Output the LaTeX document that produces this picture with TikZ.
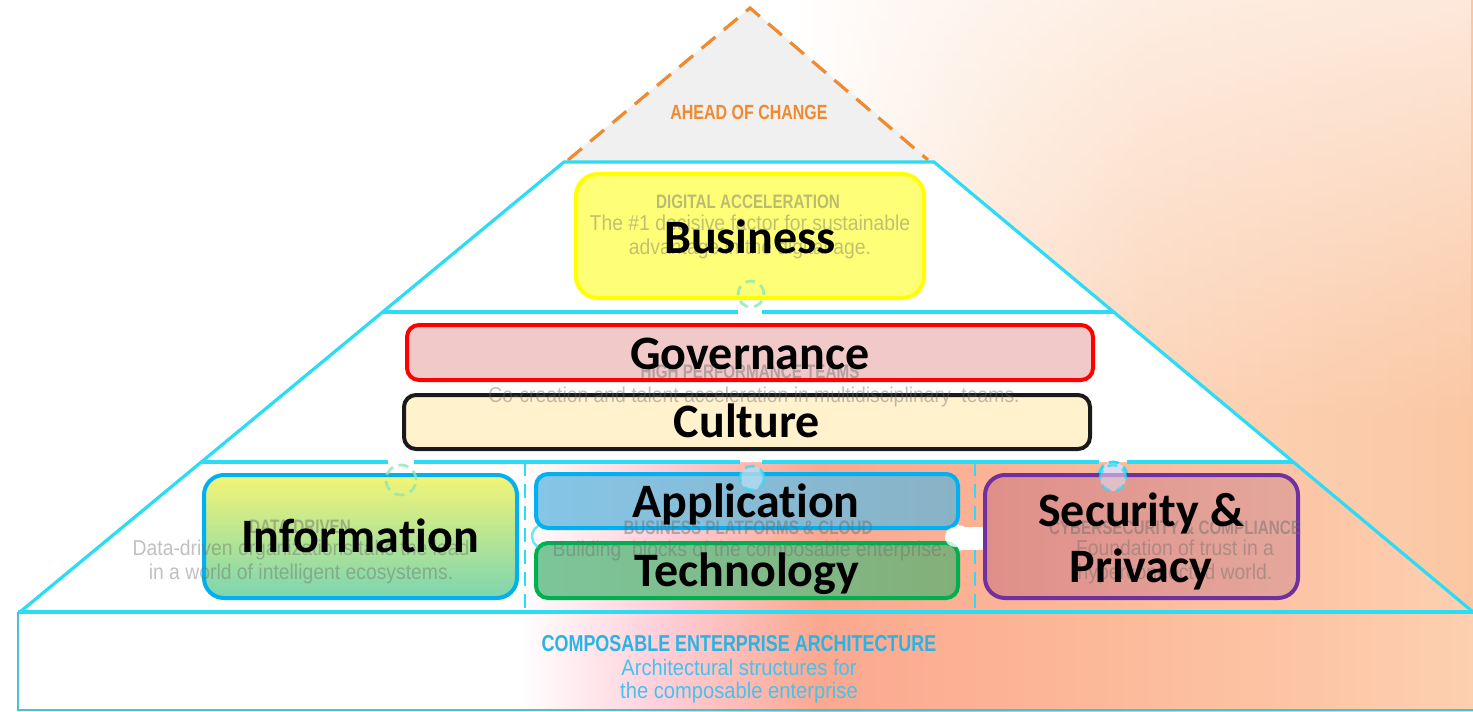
\documentclass[tikz,border=0pt]{standalone}
\usepackage{fontspec}
\usetikzlibrary{fadings}
\setmainfont{Carlito}[Ligatures=NoCommon]
\newfontfamily\condr[FakeStretch=0.9]{Liberation Sans}
\newfontfamily\condb[FakeStretch=0.78]{Liberation Sans}
\definecolor{cyl}{HTML}{2BDCF4}
\definecolor{baseteal}{HTML}{4DBFD3}
\definecolor{org}{HTML}{EF8A2F}
\definecolor{apexgray}{HTML}{F0F0F0}
\definecolor{tpeach0}{HTML}{FEF1E7}
\definecolor{tpeach1}{HTML}{FDE2CE}
\definecolor{tpeach2}{HTML}{FCD4B8}
\definecolor{tpeach3}{HTML}{FBC7A3}
\definecolor{bpink}{HTML}{FFCFDA}
\definecolor{bsalmon}{HTML}{FBA890}
\definecolor{bpeach1}{HTML}{FCB596}
\definecolor{bpeach15}{HTML}{FCC2A2}
\definecolor{bpeach2}{HTML}{FDD0B0}
\definecolor{archblue}{HTML}{2AB4E6}
\definecolor{archtext}{HTML}{45C2EE}
\definecolor{tabgreen}{HTML}{8FE6B2}
\definecolor{lav}{HTML}{E1D7EE}
\definecolor{bizfill}{HTML}{FFFF77}
\definecolor{bizdraw}{HTML}{FFFF00}
\definecolor{govfill}{HTML}{F2C9C9}
\definecolor{govdraw}{HTML}{FF0000}
\definecolor{culfill}{HTML}{FFF2CC}
\definecolor{culdraw}{HTML}{1A1A1A}
\definecolor{bluedraw}{HTML}{00B0F0}
\definecolor{techdraw}{HTML}{00B050}
\definecolor{secdraw}{HTML}{7030A0}
\definecolor{infotop}{HTML}{F3F575}
\definecolor{infomid}{HTML}{86CDEF}
\definecolor{infobot}{HTML}{7CD5B0}
\definecolor{appl}{HTML}{85C5E7}
\definecolor{appr}{HTML}{89B2C5}
\definecolor{techl}{HTML}{7BC69A}
\definecolor{techr}{HTML}{84AF79}
\definecolor{secl}{HTML}{DF8F89}
\definecolor{secr}{HTML}{E4A79C}
\definecolor{faintgray}{HTML}{6A6A6A}
\pgfdeclarehorizontalshading{topbg}{100bp}{color(0bp)=(white); color(52bp)=(white); color(55bp)=(tpeach0); color(59bp)=(tpeach1); color(64bp)=(tpeach2); color(75bp)=(tpeach3); color(100bp)=(tpeach3)}
\pgfdeclarehorizontalshading{botbg}{100bp}{color(0bp)=(white); color(42.6bp)=(white); color(47.4bp)=(bpink); color(52.8bp)=(bsalmon); color(60bp)=(bpeach1); color(67.4bp)=(bpeach15); color(75bp)=(bpeach2); color(100bp)=(bpeach2)}
\tikzfading[name=lightentop, top color=transparent!40, bottom color=transparent!100]
\begin{document}
\begin{tikzpicture}[x=0.5pt,y=-0.5pt,
  cyline/.style={draw=cyl, line width=1.6pt},
  box/.style={line width=2pt, inner sep=0pt, rounded corners=6pt},
  lbl/.style={inner sep=0pt, font=\bfseries\fontsize{24}{28}\selectfont, text height=15.5pt, text depth=0pt},
  lbltwo/.style={inner sep=0pt, align=center, font=\bfseries\fontsize{24}{28}\selectfont},
  faint/.style={text=faintgray, text opacity=0.42, align=center, inner sep=0pt, font=\condr\fontsize{10.75}{12}\selectfont},
  fainthead/.style={text=faintgray, text opacity=0.45, inner sep=0pt, font=\condb\bfseries\fontsize{9.75}{11}\selectfont},
  tabdash/.style={line width=1.4pt, dash pattern=on 5pt off 3pt}
]
\useasboundingbox (0,0) rectangle (1473,712);
% background
\shade[shading=topbg] (0,0) rectangle (1473,712);
\fill[white, path fading=lightentop] (0,0) rectangle (1473,420);
\shade[shading=botbg] (0,462) -- (1293,462) -- (1473,612) -- (1473,712) -- (0,712) -- cycle;
% apex
\fill[apexgray] (750,8) -- (564,162) -- (934,162) -- cycle;
\draw[org, line width=1.6pt, dash pattern=on 9pt off 5.5pt] (568,160) -- (750,8) -- (928,160);
% upper layers
\fill[white] (564,162) -- (934,162) -- (1293,462) -- (201,462) -- cycle;
\draw[cyline] (20,612) -- (564,162) -- (934,162) -- (1473,612);
\draw[cyline] (382,312) -- (738,312) (762,312) -- (1114,312);
\draw[cyline] (201,462) -- (388,462) (414,462) -- (740,462) (762,462) -- (1099,462) (1127,462) -- (1293,462);
\draw[cyline, line width=2pt] (18,612) -- (1473,612);
\draw[baseteal, line width=1pt] (18,612) -- (18,710) -- (1473,710);
\draw[cyl, line width=1.4pt, dash pattern=on 7pt off 4pt] (525,462) -- (525,612) (975,462) -- (975,612);
% puzzle tabs under the boxes
\fill[white] (958,538) circle[radius=6.5pt];
\fill[white] (960,527) rectangle (1003,550);
\fill[lav] (987,527) rectangle (1003,550);
\fill[lav] (1113,476) circle[radius=7pt];
\draw[cyl, tabdash] (1113,476) circle[radius=7pt];
% boxes
\node[box, rounded corners=11pt, draw=bizdraw, fill=bizfill, minimum width=174pt, minimum height=62pt] (biz) at (750,236) {};
\node[box, draw=govdraw, fill=govfill, minimum width=343pt, minimum height=27.5pt] (gov) at (750,352.5) {};
\node[box, draw=culdraw, fill=culfill, minimum width=343pt, minimum height=27pt] (cul) at (747,422) {};
\node[box, rounded corners=10pt, draw=bluedraw, top color=infotop, middle color=infomid, bottom color=infobot, minimum width=156.5pt, minimum height=61.5pt] (info) at (360.5,536.5) {};
\node[box, draw=bluedraw, left color=appl, right color=appr, minimum width=211pt, minimum height=27pt] (app) at (747,501) {};
\node[box, draw=techdraw, left color=techl, right color=techr, minimum width=211pt, minimum height=27.5pt] (tech) at (747,570.5) {};
\node[box, rounded corners=10pt, draw=secdraw, left color=secl, right color=secr, minimum width=156.5pt, minimum height=61.5pt] (sec) at (1141.5,536.5) {};
% puzzle tabs seen through the boxes
\draw[tabgreen, tabdash, opacity=0.8] (751,294) circle[radius=6.5pt];
\draw[tabgreen, tabdash, opacity=0.8] (401,480) circle[radius=7.5pt];
\fill[lav, opacity=0.6] (1113,478) circle[radius=6.5pt];
\draw[cyl, tabdash, opacity=0.7] (1113,478) circle[radius=6.5pt];
\fill[appl!60!white, opacity=0.8] (752,478) circle[radius=6pt];
\draw[cyl, tabdash, opacity=0.7] (752,478) circle[radius=6pt];
\fill[white, opacity=0.8] (955,537) circle[radius=5pt];
\draw[cyl, line width=1.2pt, opacity=0.7] (538,526) arc[start angle=120, end angle=240, radius=6pt];
% faint background texts
\node[text=org, inner sep=0pt, font=\condb\bfseries\fontsize{10.25}{11}\selectfont] (ahead) at (749,112) {AHEAD OF CHANGE};
\node[fainthead] (dahead) at (748,202) {DIGITAL ACCELERATION};
\node[faint] (datext) at (750,237) {The \#1 decisive factor for sustainable\\advantage in the digital age.};
\node[fainthead] (hpthead) at (750,372) {HIGH PERFORMANCE TEAMS};
\node[faint] (hpttext) at (754,397) {Co-creation and talent acceleration in multidisciplinary\ \ teams.};
\node[fainthead] (ddhead) at (300,527) {DATA DRIVEN};
\node[faint] (ddtext) at (301,562) {Data-driven organizations take the lead\\in a world of intelligent ecosystems.};
\node[fainthead] (bphead) at (748,528) {BUSINESS PLATFORMS \& CLOUD};
\node[faint] (bptext) at (750,551) {Building\ \ blocks of the composable enterprise.};
\node[fainthead] (cshead) at (1175,528) {CYBERSECURITY \& COMPLIANCE};
\node[faint] (cstext) at (1175,562) {Foundation of trust in a\\hyperconnected world.};
\node[text=archblue, inner sep=0pt, font=\condb\bfseries\fontsize{11.5}{13}\selectfont] (cea) at (739,644) {COMPOSABLE ENTERPRISE ARCHITECTURE};
\node[text=archtext, align=center, inner sep=0pt, font=\condr\fontsize{11.2}{11.5}\selectfont] (ceatext) at (739,681) {Architectural structures for\\the composable enterprise};
% labels
\node[lbl] (bizlbl) at (750,238) {Business};
\node[lbl] (govlbl) at (750,354) {Governance};
\node[lbl] (cullbl) at (747,422) {Culture};
\node[lbl] (infolbl) at (360,537) {Information};
\node[lbl] (applbl) at (746,502) {Application};
\node[lbl] (techlbl) at (747,571) {Technology};
\node[lbltwo] (seclbl) at (1141,541) {Security \&\\Privacy};
\end{tikzpicture}
\end{document}
